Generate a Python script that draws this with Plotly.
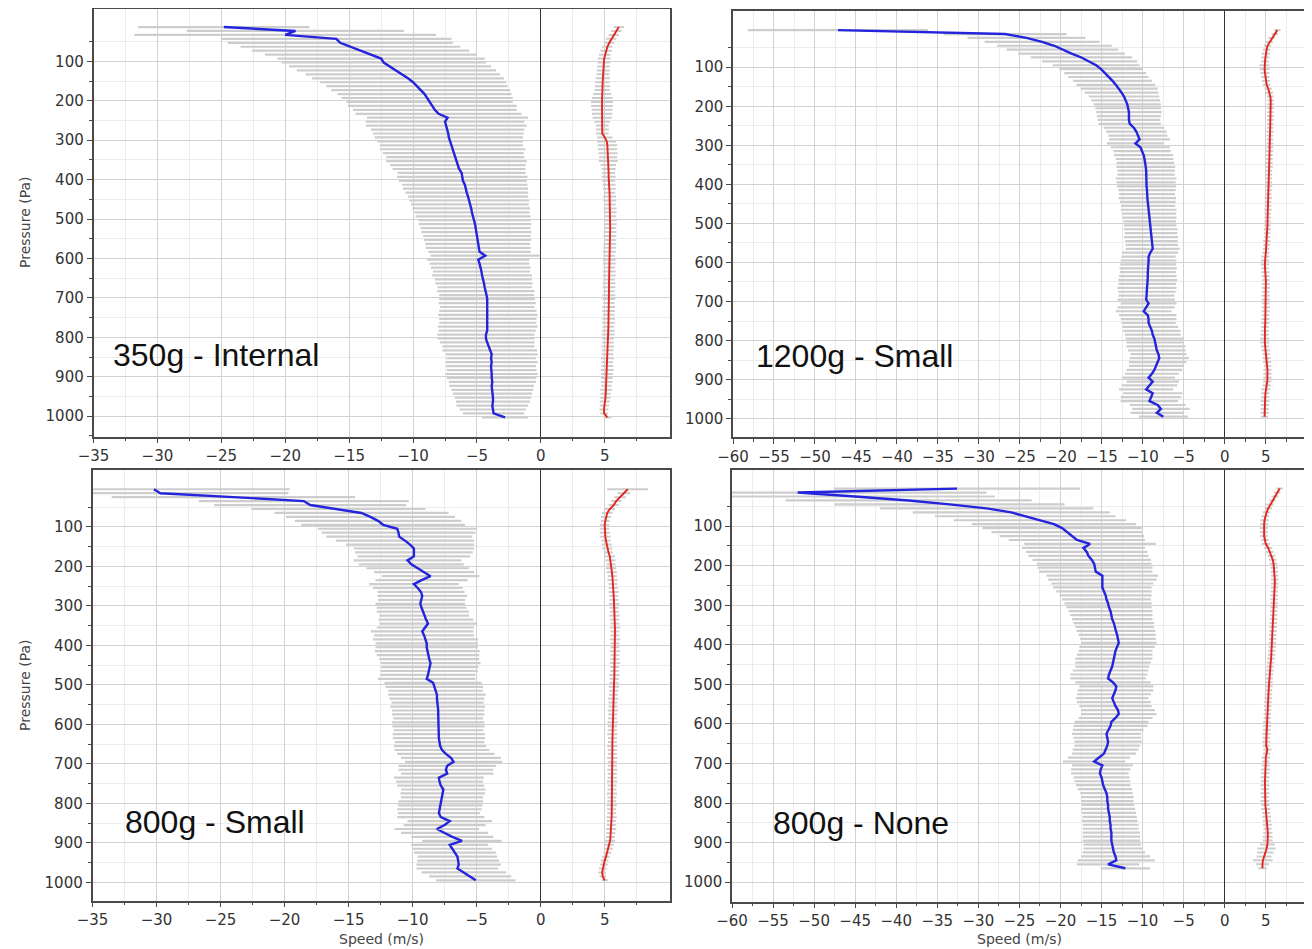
import plotly.graph_objects as go

# ---------------- data ----------------
# pressure levels (Pa)
LEVELS_A = [13, 23, 33, 43, 53, 63, 73, 83, 93, 103,
            113, 123, 133, 143, 153, 163, 173, 183, 193, 203,
            213, 223, 233, 243, 253, 263, 273, 283, 293, 303,
            313, 323, 333, 343, 353, 363, 373, 383, 393, 403,
            413, 423, 433, 443, 453, 463, 473, 483, 493, 503,
            513, 523, 533, 543, 553, 563, 573, 583, 593, 603,
            613, 623, 633, 643, 653, 663, 673, 683, 693, 703,
            713, 723, 733, 743, 753, 763, 773, 783, 793, 803,
            813, 823, 833, 843, 853, 863, 873, 883, 893, 903,
            913, 923, 933, 943, 953, 963, 973, 983, 993, 1003]
LEVELS_B = [5, 15, 25, 35, 45, 55, 65, 75, 85, 95,
            105, 115, 125, 135, 145, 155, 165, 175, 185, 195,
            205, 215, 225, 235, 245, 255, 265, 275, 285, 295,
            305, 315, 325, 335, 345, 355, 365, 375, 385, 395,
            405, 415, 425, 435, 445, 455, 465, 475, 485, 495,
            505, 515, 525, 535, 545, 555, 565, 575, 585, 595,
            605, 615, 625, 635, 645, 655, 665, 675, 685, 695,
            705, 715, 725, 735, 745, 755, 765, 775, 785, 795,
            805, 815, 825, 835, 845, 855, 865, 875, 885, 895,
            905, 915, 925, 935, 945, 955, 965, 975, 985, 995]

LABELS = ["350g - Internal", "1200g - Small", "800g - Small", "800g - None"]

# Panel 1: 350g - Internal
VERT_MEAN_1 = [-24.8, -19.2, -20.0, -16.0, -15.7, -14.9, -14.1, -13.3, -12.5, -12.3,
               -11.8, -11.3, -10.8, -10.4, -10.0, -9.7, -9.4, -9.1, -8.9, -8.7,
               -8.5, -8.3, -8.0, -7.3, -7.5, -7.4, -7.3, -7.25, -7.2, -7.1,
               -7.0, -6.9, -6.85, -6.7, -6.6, -6.5, -6.4, -6.2, -6.15, -6.1,
               -5.95, -5.9, -5.8, -5.7, -5.6, -5.55, -5.45, -5.4, -5.3, -5.2,
               -5.15, -5.1, -5.05, -5.0, -4.95, -4.95, -4.9, -4.8, -4.35, -4.9,
               -4.8, -4.7, -4.65, -4.6, -4.5, -4.45, -4.4, -4.3, -4.25, -4.2,
               -4.2, -4.2, -4.15, -4.15, -4.15, -4.15, -4.15, -4.2, -4.3, -4.3,
               -4.2, -4.1, -4.0, -3.85, -3.9, -3.85, -3.9, -3.85, -3.85, -3.85,
               -3.8, -3.85, -3.8, -3.8, -3.75, -3.75, -3.8, -3.75, -3.7, -2.8]
VERT_STD_1 = [6.7, 8.5, 11.8, 9.0, 8.8, 8.6, 8.5, 8.3, 8.1, 8.0,
              7.9, 7.8, 7.6, 7.5, 7.3, 7.1, 7.0, 6.8, 6.7, 6.5,
              6.6, 6.4, 6.5, 6.3, 6.2, 6.3, 6.0, 5.9, 5.8, 5.7,
              5.6, 5.7, 5.5, 5.4, 5.5, 5.3, 5.2, 5.0, 5.1, 5.0,
              4.9, 4.9, 4.8, 4.7, 4.7, 4.6, 4.6, 4.5, 4.5, 4.4,
              4.4, 4.3, 4.3, 4.2, 4.2, 4.1, 4.1, 4.0, 4.3, 4.0,
              3.9, 3.9, 3.8, 3.9, 3.8, 3.8, 3.7, 3.8, 3.7, 3.75,
              3.8, 3.7, 3.8, 3.9, 3.8, 3.8, 3.9, 3.8, 3.8, 3.8,
              3.7, 3.6, 3.7, 3.6, 3.5, 3.6, 3.5, 3.5, 3.6, 3.5,
              3.4, 3.3, 3.2, 3.1, 3.0, 2.9, 2.8, 2.6, 2.4, 1.8]
HORIZ_MEAN_1 = [6.1, 5.9, 5.7, 5.5, 5.35, 5.2, 5.1, 5.0, 4.95, 4.93,
                4.9, 4.88, 4.86, 4.85, 4.83, 4.82, 4.8, 4.8, 4.8, 4.78,
                4.78, 4.78, 4.78, 4.8, 4.8, 4.8, 4.82, 4.8, 5.0, 5.15,
                5.2, 5.22, 5.25, 5.26, 5.27, 5.28, 5.3, 5.3, 5.3, 5.3,
                5.33, 5.35, 5.37, 5.38, 5.4, 5.4, 5.42, 5.43, 5.44, 5.44,
                5.43, 5.42, 5.41, 5.4, 5.4, 5.4, 5.38, 5.36, 5.35, 5.35,
                5.35, 5.35, 5.34, 5.34, 5.34, 5.33, 5.33, 5.33, 5.32, 5.32,
                5.32, 5.31, 5.3, 5.3, 5.3, 5.29, 5.28, 5.27, 5.26, 5.25,
                5.25, 5.24, 5.23, 5.22, 5.21, 5.2, 5.2, 5.18, 5.17, 5.16,
                5.14, 5.12, 5.1, 5.07, 5.05, 5.0, 4.97, 4.93, 4.95, 5.2]
HORIZ_STD_1 = [0.4, 0.4, 0.4, 0.4, 0.4, 0.4, 0.45, 0.45, 0.5, 0.5,
               0.5, 0.5, 0.5, 0.55, 0.55, 0.6, 0.6, 0.7, 0.8, 0.85,
               0.85, 0.8, 0.8, 0.75, 0.6, 0.5, 0.5, 0.5, 0.6, 0.75,
               0.75, 0.75, 0.75, 0.7, 0.75, 0.6, 0.55, 0.5, 0.55, 0.5,
               0.5, 0.5, 0.45, 0.5, 0.5, 0.45, 0.5, 0.5, 0.45, 0.5,
               0.5, 0.45, 0.5, 0.5, 0.45, 0.5, 0.5, 0.5, 0.45, 0.5,
               0.5, 0.45, 0.5, 0.5, 0.45, 0.5, 0.5, 0.45, 0.5, 0.5,
               0.45, 0.5, 0.5, 0.45, 0.5, 0.5, 0.45, 0.5, 0.5, 0.45,
               0.45, 0.5, 0.45, 0.45, 0.5, 0.45, 0.45, 0.5, 0.45, 0.45,
               0.45, 0.4, 0.45, 0.4, 0.4, 0.4, 0.35, 0.35, 0.3, 0.3]

# Panel 2: 1200g - Small
VERT_MEAN_2 = [-47.2, -26.8, -24.2, -22.3, -20.8, -19.8, -18.7, -17.5, -16.5, -15.7,
               -15.1, -14.6, -14.2, -13.7, -13.3, -12.9, -12.6, -12.3, -12.1, -11.9,
               -11.8, -11.7, -11.7, -11.7, -11.6, -11.1, -10.8, -10.6, -10.4, -10.9,
               -10.3, -10.1, -9.9, -9.8, -9.7, -9.65, -9.6, -9.6, -9.6, -9.6,
               -9.55, -9.5, -9.5, -9.45, -9.4, -9.35, -9.3, -9.25, -9.2, -9.15,
               -9.1, -9.05, -9.0, -9.0, -8.95, -8.9, -8.8, -9.1, -9.3, -9.3,
               -9.35, -9.35, -9.4, -9.4, -9.4, -9.45, -9.5, -9.5, -9.55, -9.6,
               -9.3, -9.6, -9.9, -9.4, -9.3, -9.3, -9.1, -8.9, -8.8, -8.6,
               -8.5, -8.4, -8.3, -8.1, -8.0, -8.2, -8.4, -8.6, -8.9, -9.3,
               -8.8, -9.2, -9.6, -8.8, -9.0, -9.2, -8.2, -7.8, -8.3, -7.5]
VERT_STD_2 = [11.0, 7.5, 7.2, 7.0, 7.0, 6.8, 6.5, 6.2, 5.8, 5.3,
              5.1, 5.0, 4.9, 4.8, 4.8, 4.7, 4.5, 4.3, 4.2, 4.1,
              4.0, 4.0, 3.9, 3.8, 3.8, 3.7, 3.7, 3.6, 3.7, 3.5,
              3.6, 3.5, 3.6, 3.5, 3.5, 3.6, 3.5, 3.5, 3.7, 3.6,
              3.6, 3.5, 3.4, 3.5, 3.4, 3.3, 3.4, 3.3, 3.3, 3.2,
              3.2, 3.3, 3.2, 3.3, 3.2, 3.2, 3.3, 3.4, 3.3, 3.4,
              3.4, 3.5, 3.4, 3.5, 3.6, 3.5, 3.6, 3.5, 3.4, 3.5,
              3.4, 3.5, 3.4, 3.5, 3.4, 3.3, 3.4, 3.5, 3.4, 3.5,
              3.5, 3.6, 3.5, 3.4, 3.6, 3.5, 3.3, 3.4, 3.3, 3.2,
              3.2, 3.4, 3.3, 3.6, 3.7, 3.5, 3.4, 3.5, 3.2, 3.0]
HORIZ_MEAN_2 = [6.4, 6.1, 5.7, 5.4, 5.2, 5.1, 5.0, 4.95, 4.9, 4.85,
                4.85, 4.9, 4.95, 5.0, 5.1, 5.3, 5.45, 5.55, 5.6, 5.6,
                5.6, 5.58, 5.56, 5.55, 5.55, 5.53, 5.52, 5.5, 5.5, 5.5,
                5.48, 5.46, 5.45, 5.44, 5.42, 5.4, 5.38, 5.37, 5.36, 5.35,
                5.34, 5.32, 5.3, 5.29, 5.27, 5.26, 5.25, 5.23, 5.22, 5.2,
                5.2, 5.18, 5.16, 5.14, 5.12, 5.1, 5.05, 5.0, 4.95, 4.9,
                4.88, 4.9, 4.95, 4.98, 5.0, 5.0, 5.0, 5.0, 5.0, 5.0,
                5.0, 5.0, 4.98, 4.97, 4.95, 4.93, 4.9, 4.88, 4.86, 4.85,
                4.88, 4.92, 4.98, 5.05, 5.1, 5.15, 5.2, 5.2, 5.2, 5.2,
                5.18, 5.1, 5.0, 4.95, 4.92, 4.9, 4.88, 4.87, 4.86, 4.85]
HORIZ_STD_2 = [0.4, 0.4, 0.4, 0.45, 0.45, 0.45, 0.5, 0.5, 0.5, 0.6,
               0.6, 0.55, 0.5, 0.5, 0.45, 0.45, 0.45, 0.4, 0.4, 0.4,
               0.4, 0.4, 0.45, 0.4, 0.4, 0.4, 0.45, 0.4, 0.4, 0.4,
               0.4, 0.45, 0.4, 0.4, 0.4, 0.45, 0.4, 0.4, 0.4, 0.4,
               0.45, 0.4, 0.4, 0.45, 0.4, 0.4, 0.45, 0.4, 0.4, 0.4,
               0.4, 0.45, 0.4, 0.4, 0.45, 0.4, 0.4, 0.45, 0.5, 0.5,
               0.5, 0.45, 0.5, 0.5, 0.45, 0.5, 0.5, 0.45, 0.5, 0.5,
               0.45, 0.5, 0.5, 0.45, 0.5, 0.5, 0.45, 0.5, 0.5, 0.55,
               0.55, 0.5, 0.5, 0.45, 0.5, 0.5, 0.45, 0.5, 0.5, 0.5,
               0.5, 0.5, 0.55, 0.5, 0.5, 0.55, 0.5, 0.5, 0.5, 0.45]

# Panel 3: 800g - Small
VERT_MEAN_3 = [-30.2, -29.7, -24.0, -18.5, -18.0, -15.8, -14.0, -13.3, -12.7, -12.3,
               -11.2, -11.1, -11.05, -10.6, -10.2, -9.9, -9.9, -9.9, -10.4, -10.1,
               -9.6, -9.1, -8.6, -9.3, -9.9, -9.6, -9.35, -9.25, -9.3, -9.4,
               -9.3, -9.2, -9.1, -8.95, -8.8, -9.0, -9.25, -9.1, -9.0, -8.9,
               -8.9, -8.85, -8.8, -8.7, -8.6, -8.65, -8.7, -8.8, -8.9, -8.4,
               -8.3, -8.2, -8.1, -8.1, -8.05, -8.05, -8.0, -8.0, -8.0, -8.0,
               -7.98, -7.97, -7.96, -7.95, -7.9, -7.85, -7.7, -7.4, -7.0, -6.8,
               -7.3, -7.4, -7.3, -7.95, -7.9, -7.8, -7.6, -7.65, -7.7, -7.8,
               -7.85, -7.9, -7.95, -7.8, -7.1, -7.5, -8.1, -7.5, -6.9, -6.15,
               -7.1, -6.9, -6.7, -6.5, -6.45, -6.4, -6.5, -6.0, -5.5, -5.07]
VERT_STD_3 = [10.6, 10.0, 9.5, 8.2, 7.5, 6.8, 6.8, 6.6, 6.5, 6.4,
              6.2, 6.0, 5.7, 5.4, 5.0, 4.7, 4.6, 4.4, 4.2, 4.1,
              4.0, 3.9, 3.8, 3.6, 3.5, 3.5, 3.4, 3.5, 3.4, 3.5,
              3.5, 3.6, 3.5, 3.7, 3.8, 3.8, 4.0, 3.9, 4.1, 4.0,
              4.0, 4.1, 4.0, 3.9, 3.9, 3.8, 3.8, 3.7, 3.8, 3.8,
              3.8, 3.7, 3.8, 3.7, 3.6, 3.7, 3.6, 3.6, 3.5, 3.6,
              3.6, 3.5, 3.6, 3.6, 3.5, 3.6, 3.7, 3.8, 3.9, 3.8,
              3.8, 3.7, 3.6, 3.5, 3.4, 3.4, 3.3, 3.3, 3.2, 3.3,
              3.3, 3.3, 3.2, 3.4, 3.3, 3.2, 3.3, 3.4, 3.2, 3.1,
              3.0, 3.1, 3.2, 3.1, 3.2, 3.3, 3.2, 3.3, 3.2, 3.1]
HORIZ_MEAN_3 = [6.8, 6.5, 6.2, 5.9, 5.7, 5.4, 5.2, 5.1, 5.05, 5.0,
                5.0, 5.02, 5.05, 5.1, 5.15, 5.2, 5.3, 5.4, 5.45, 5.5,
                5.5, 5.55, 5.6, 5.62, 5.65, 5.67, 5.7, 5.7, 5.72, 5.73,
                5.75, 5.76, 5.77, 5.78, 5.8, 5.8, 5.8, 5.8, 5.8, 5.8,
                5.8, 5.8, 5.8, 5.8, 5.8, 5.78, 5.77, 5.76, 5.75, 5.73,
                5.72, 5.7, 5.68, 5.66, 5.65, 5.65, 5.64, 5.63, 5.62, 5.62,
                5.61, 5.6, 5.6, 5.6, 5.6, 5.6, 5.6, 5.6, 5.6, 5.6,
                5.6, 5.6, 5.6, 5.59, 5.58, 5.58, 5.57, 5.56, 5.56, 5.55,
                5.55, 5.55, 5.55, 5.54, 5.53, 5.52, 5.5, 5.48, 5.45, 5.42,
                5.35, 5.28, 5.2, 5.1, 5.0, 4.95, 4.85, 4.8, 4.85, 5.0]
HORIZ_STD_3 = [1.6, 0.5, 0.45, 0.4, 0.4, 0.4, 0.4, 0.4, 0.35, 0.35,
               0.35, 0.4, 0.4, 0.35, 0.4, 0.4, 0.35, 0.4, 0.4, 0.35,
               0.4, 0.4, 0.35, 0.4, 0.35, 0.35, 0.4, 0.35, 0.35, 0.4,
               0.35, 0.35, 0.4, 0.35, 0.35, 0.4, 0.35, 0.35, 0.4, 0.35,
               0.35, 0.4, 0.35, 0.35, 0.4, 0.35, 0.35, 0.4, 0.35, 0.35,
               0.4, 0.35, 0.35, 0.4, 0.35, 0.35, 0.4, 0.35, 0.35, 0.4,
               0.35, 0.35, 0.4, 0.35, 0.35, 0.4, 0.35, 0.35, 0.4, 0.35,
               0.35, 0.4, 0.35, 0.35, 0.4, 0.35, 0.35, 0.4, 0.35, 0.35,
               0.4, 0.35, 0.35, 0.4, 0.35, 0.35, 0.4, 0.35, 0.35, 0.4,
               0.35, 0.35, 0.3, 0.3, 0.3, 0.3, 0.3, 0.3, 0.25, 0.25]

# Panel 4: 800g - None
VERT_MEAN_4 = [-32.6, -52.0, -45.0, -38.5, -33.5, -29.0, -26.0, -24.3, -22.5, -20.8,
               -19.8, -19.2, -18.6, -18.0, -16.4, -17.2, -16.8, -16.6, -16.2, -15.9,
               -15.8, -15.7, -14.9, -14.9, -14.9, -14.9, -14.7, -14.5, -14.4, -14.2,
               -14.1, -13.9, -13.8, -13.7, -13.5, -13.4, -13.25, -13.1, -13.0, -12.9,
               -13.1, -13.3, -13.4, -13.5, -13.6, -13.7, -13.9, -14.1, -14.2, -13.6,
               -13.2, -13.3, -13.5, -13.7, -13.5, -13.3, -13.0, -12.9, -13.3, -13.8,
               -13.9, -14.2, -14.4, -14.3, -14.2, -14.3, -14.5, -14.7, -15.3, -15.9,
               -14.9, -15.1, -15.2, -15.0, -14.9, -14.8, -14.6, -14.4, -14.3, -14.3,
               -14.2, -14.2, -14.1, -14.0, -14.0, -13.9, -13.9, -13.8, -13.8, -13.8,
               -13.7, -13.6, -13.5, -13.3, -13.2, -14.2, -12.1]
VERT_STD_4 = [15.0, 23.0, 17.0, 15.0, 14.0, 13.0, 12.0, 11.0, 10.5, 10.0,
              9.7, 9.2, 8.8, 8.3, 8.0, 7.5, 7.4, 7.3, 7.2, 7.0,
              7.0, 6.9, 6.8, 6.6, 6.2, 6.0, 5.8, 5.6, 5.4, 5.3,
              5.2, 5.1, 5.0, 4.9, 4.9, 4.8, 4.8, 4.7, 4.6, 4.6,
              4.6, 4.5, 4.6, 4.7, 4.6, 4.5, 4.6, 4.7, 4.6, 4.6,
              4.5, 4.6, 4.5, 4.4, 4.5, 4.4, 4.5, 4.6, 4.5, 4.5,
              4.5, 4.3, 4.2, 4.1, 4.1, 4.0, 4.0, 3.9, 3.8, 3.8,
              3.7, 3.6, 3.5, 3.4, 3.4, 3.3, 3.3, 3.2, 3.2, 3.2,
              3.2, 3.3, 3.3, 3.3, 3.4, 3.4, 3.4, 3.5, 3.5, 3.5,
              3.5, 3.6, 3.8, 4.2, 4.7, 3.8, 3.0]
HORIZ_MEAN_4 = [6.7, 6.4, 6.1, 5.8, 5.5, 5.3, 5.1, 4.95, 4.85, 4.8,
                4.78, 4.78, 4.8, 4.9, 5.0, 5.3, 5.5, 5.7, 5.85, 5.95,
                6.0, 6.05, 6.1, 6.1, 6.1, 6.08, 6.05, 6.03, 6.0, 6.0,
                6.0, 5.98, 5.96, 5.94, 5.92, 5.9, 5.88, 5.85, 5.82, 5.8,
                5.78, 5.75, 5.7, 5.65, 5.6, 5.55, 5.5, 5.45, 5.42, 5.4,
                5.38, 5.35, 5.32, 5.3, 5.27, 5.25, 5.22, 5.2, 5.18, 5.15,
                5.15, 5.12, 5.1, 5.08, 5.05, 5.05, 5.2, 5.1, 5.0, 5.0,
                5.0, 4.98, 4.95, 4.92, 4.9, 4.9, 4.9, 4.9, 4.9, 4.9,
                4.95, 5.0, 5.05, 5.1, 5.15, 5.2, 5.22, 5.25, 5.25, 5.25,
                5.2, 5.1, 4.95, 4.8, 4.65, 4.6, 4.6]
HORIZ_STD_4 = [0.4, 0.4, 0.4, 0.4, 0.45, 0.45, 0.45, 0.45, 0.5, 0.5,
               0.5, 0.5, 0.45, 0.45, 0.5, 0.5, 0.45, 0.45, 0.45, 0.45,
               0.45, 0.45, 0.45, 0.45, 0.45, 0.45, 0.45, 0.45, 0.45, 0.45,
               0.45, 0.45, 0.45, 0.45, 0.45, 0.45, 0.45, 0.45, 0.45, 0.45,
               0.45, 0.45, 0.45, 0.45, 0.45, 0.45, 0.45, 0.45, 0.45, 0.45,
               0.45, 0.45, 0.45, 0.45, 0.45, 0.45, 0.45, 0.45, 0.45, 0.45,
               0.5, 0.45, 0.5, 0.45, 0.5, 0.45, 0.5, 0.45, 0.5, 0.45,
               0.5, 0.55, 0.5, 0.55, 0.5, 0.55, 0.5, 0.55, 0.5, 0.55,
               0.5, 0.55, 0.5, 0.55, 0.5, 0.55, 0.5, 0.55, 0.6, 0.6,
               0.9, 1.1, 1.0, 0.9, 1.2, 0.8, 0.5]

X_TICKS_NARROW = [-35, -30, -25, -20, -15, -10, -5, 0, 5]
X_TICKS_WIDE = [-60, -55, -50, -45, -40, -35, -30, -25, -20, -15, -10, -5, 0, 5]
Y_TICKS = [100, 200, 300, 400, 500, 600, 700, 800, 900, 1000]

# ---------------- style ----------------
BLUE = "#2424dc"
RED = "#e4261f"
GRAY = "#cdcdcd"
FRAME = "#4a4a4a"
GRID = "#d2d2d2"
MINOR_GRID = "#ececec"
TICK_FONT = dict(family="DejaVu Sans", size=15, color="#333333")

# The page body has an 8px default margin; the figure is sized so that it
# fills the 1312x949 window exactly from that offset.
OFF = 8
W, H = 1312 - OFF, 949 - OFF


def px_x(v):
    return min(1.0, max(0.0, (v - OFF) / W))


def px_y(v):
    return min(1.0, max(0.0, 1 - (v - OFF) / H))


panels = [
    dict(levels=LEVELS_A, vm=VERT_MEAN_1, vs=VERT_STD_1, hm=HORIZ_MEAN_1, hs=HORIZ_STD_1,
         xr=[-35, 10.1], yr=[1052, -34], xt=X_TICKS_NARROW,
         xd=[93.5, 670], yd=[8.5, 436.7], label_at=(-33.6, 845)),
    dict(levels=LEVELS_B, vm=VERT_MEAN_2, vs=VERT_STD_2, hm=HORIZ_MEAN_2, hs=HORIZ_STD_2,
         xr=[-60, 9.9], yr=[1047, -44], xt=X_TICKS_WIDE,
         xd=[733, 1306], yd=[11, 437], label_at=(-57.4, 840)),
    dict(levels=LEVELS_B, vm=VERT_MEAN_3, vs=VERT_STD_3, hm=HORIZ_MEAN_3, hs=HORIZ_STD_3,
         xr=[-35, 10.1], yr=[1046, -45], xt=X_TICKS_NARROW,
         xd=[92.5, 670], yd=[469.5, 900.5], label_at=(-32.6, 848)),
    dict(levels=LEVELS_B, vm=VERT_MEAN_4, vs=VERT_STD_4, hm=HORIZ_MEAN_4, hs=HORIZ_STD_4,
         xr=[-60, 9.9], yr=[1049, -42], xt=X_TICKS_WIDE,
         xd=[732, 1306], yd=[470, 901.5], label_at=(-55.2, 851)),
]

fig = go.Figure()
layout = dict(width=W, height=H, margin=dict(l=0, r=0, t=0, b=0, autoexpand=False),
              paper_bgcolor="white", plot_bgcolor="white", showlegend=False,
              annotations=[])

for i, p in enumerate(panels):
    n = i + 1
    xa = "x" if n == 1 else f"x{n}"
    ya = "y" if n == 1 else f"y{n}"
    lv_v = p["levels"][:len(p["vm"])]
    lv_h = p["levels"][:len(p["hm"])]
    # spread bars
    fig.add_trace(go.Scatter(x=p["vm"], y=lv_v, mode="markers",
                             marker=dict(size=1, color="rgba(0,0,0,0)"),
                             error_x=dict(type="data", array=p["vs"], color=GRAY,
                                          thickness=2.2, width=0),
                             xaxis=xa, yaxis=ya, hoverinfo="skip"))
    fig.add_trace(go.Scatter(x=p["hm"], y=lv_h, mode="markers",
                             marker=dict(size=1, color="rgba(0,0,0,0)"),
                             error_x=dict(type="data", array=p["hs"], color=GRAY,
                                          thickness=2.0, width=0),
                             xaxis=xa, yaxis=ya, hoverinfo="skip"))
    # mean lines
    fig.add_trace(go.Scatter(x=p["vm"], y=lv_v, mode="lines",
                             line=dict(color=BLUE, width=2.4),
                             xaxis=xa, yaxis=ya))
    fig.add_trace(go.Scatter(x=p["hm"], y=lv_h, mode="lines",
                             line=dict(color=RED, width=1.9),
                             xaxis=xa, yaxis=ya))

    xkey = "xaxis" if n == 1 else f"xaxis{n}"
    ykey = "yaxis" if n == 1 else f"yaxis{n}"
    layout[xkey] = dict(
        domain=[px_x(p["xd"][0]), px_x(p["xd"][1])], anchor=ya, automargin=False,
        range=p["xr"], autorange=False, tickvals=p["xt"],
        showline=True, mirror=True, linecolor=FRAME, linewidth=1.5,
        ticks="outside", ticklen=5, tickcolor=FRAME, tickwidth=1,
        tickfont=TICK_FONT, showgrid=True, gridcolor=GRID, gridwidth=1,
        zeroline=True, zerolinecolor="#333333", zerolinewidth=1.2,
        minor=dict(tick0=2.5, dtick=5, ticks="outside", ticklen=3,
                   tickcolor=FRAME, showgrid=True, gridcolor=MINOR_GRID, gridwidth=1),
        fixedrange=True)
    layout[ykey] = dict(
        domain=[px_y(p["yd"][1]), px_y(p["yd"][0])], anchor=xa, automargin=False,
        range=p["yr"], autorange=False, tickvals=Y_TICKS,
        showline=True, mirror=True, linecolor=FRAME, linewidth=1.5,
        ticks="outside", ticklen=5, tickcolor=FRAME, tickwidth=1,
        tickfont=TICK_FONT, showgrid=True, gridcolor=GRID, gridwidth=1,
        zeroline=False,
        minor=dict(tick0=50, dtick=100, ticks="outside", ticklen=3,
                   tickcolor=FRAME, showgrid=True, gridcolor=MINOR_GRID, gridwidth=1),
        fixedrange=True)

    layout["annotations"].append(dict(
        text=LABELS[i], x=p["label_at"][0], y=p["label_at"][1], xref=xa, yref=ya,
        xanchor="left", yanchor="middle", showarrow=False,
        font=dict(family="Liberation Sans", size=32, color="#111111")))

# axis titles
TITLE_FONT = dict(family="DejaVu Sans", size=14, color="#444444")
for yc in [222, 685]:
    layout["annotations"].append(dict(
        text="Pressure (Pa)", x=px_x(25), y=px_y(yc), xref="paper", yref="paper",
        xanchor="center", yanchor="middle", textangle=-90, showarrow=False,
        font=TITLE_FONT))
for xc in [381, 1019]:
    layout["annotations"].append(dict(
        text="Speed (m/s)", x=px_x(xc), y=px_y(939), xref="paper", yref="paper",
        xanchor="center", yanchor="middle", showarrow=False, font=TITLE_FONT))

fig.update_layout(**layout)
fig.write_html("out.html")
